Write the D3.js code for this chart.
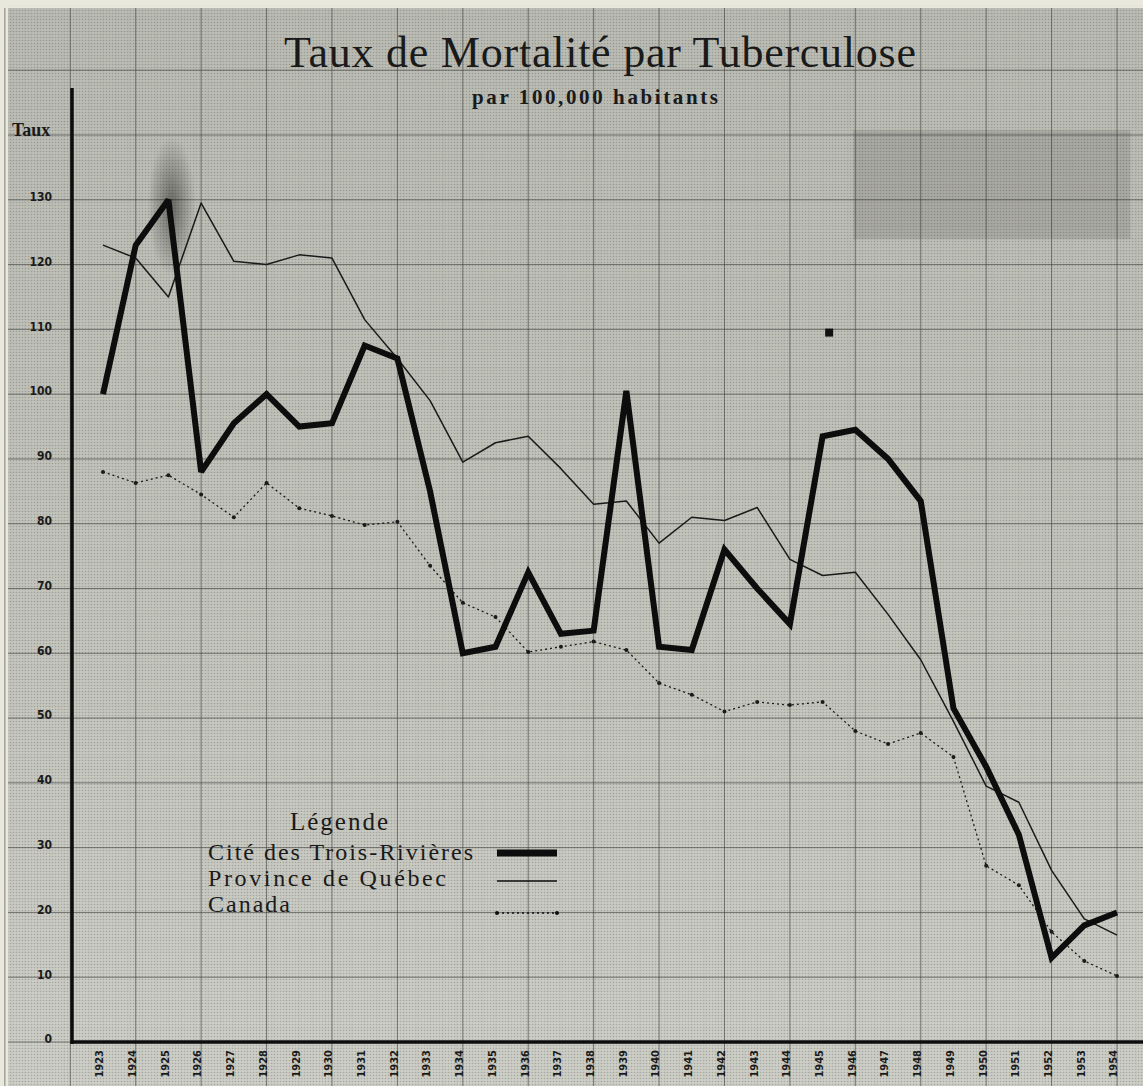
<!DOCTYPE html>
<html>
<head>
<meta charset="utf-8">
<script src="https://cdn.jsdelivr.net/npm/d3@7"></script>
<style>
  html, body { margin: 0; padding: 0; background: #e8e8dc; }
  svg { display: block; }
</style>
</head>
<body>
<svg id="chart" width="1143" height="1086"></svg>
<script>
// ---------- data ----------
const years = [1923,1924,1925,1926,1927,1928,1929,1930,1931,1932,1933,1934,1935,1936,1937,1938,
               1939,1940,1941,1942,1943,1944,1945,1946,1947,1948,1949,1950,1951,1952,1953,1954];
const troisRivieres = [100,123,130,88,95.5,100,95,95.5,107.5,105.5,85,60,61,72.5,63,63.5,
                       100.5,61,60.5,76,70,64.5,93.5,94.5,90,83.5,51.5,42.5,32,13,18,20];
const provinceQuebec = [123,121,115,129.5,120.5,120,121.5,121,111.5,105.5,99,89.5,92.5,93.5,88.5,83,
                        83.5,77,81,80.5,82.5,74.5,72,72.5,66,59,49.5,39.5,37,26.5,19,16.5];
const canada = [88,86.3,87.5,84.5,81,86.3,82.4,81.2,79.8,80.3,73.5,67.8,65.6,60.2,61,61.8,
                60.5,55.4,53.6,51,52.5,52,52.5,48,46,47.7,44,27.2,24.2,17,12.5,10.2];
const yTicks = [0,10,20,30,40,50,60,70,80,90,100,110,120,130];
const seriesNames = ["Cité des Trois-Rivières", "Province de Québec", "Canada"];
const titleText = "Taux de Mortalité par Tuberculose";
const subtitleText = "par 100,000 habitants";
const yAxisTitle = "Taux";
const legendTitle = "Légende";

// ---------- setup ----------
const W = 1143, H = 1086;
const svg = d3.select("#chart");
const x = d3.scaleLinear().domain([1923, 1954]).range([103, 1117]);
const y = d3.scaleLinear().domain([0, 140]).range([1042, 135]);
const axisX = 72, axisY = y(0);

const defs = svg.append("defs");
const bg = defs.append("linearGradient").attr("id","bg").attr("x1",0).attr("y1",0).attr("x2",0).attr("y2",1);
bg.append("stop").attr("offset","0%").attr("stop-color","#babbb3");
bg.append("stop").attr("offset","55%").attr("stop-color","#c3c4bc");
bg.append("stop").attr("offset","100%").attr("stop-color","#cdcec6");
const pat = defs.append("pattern").attr("id","halftone").attr("width",3).attr("height",3)
  .attr("patternUnits","userSpaceOnUse");
pat.append("circle").attr("cx",1.5).attr("cy",1.5).attr("r",0.8).attr("fill","#000").attr("opacity",0.18);
const smudge = defs.append("radialGradient").attr("id","smudge");
smudge.append("stop").attr("offset","0%").attr("stop-color","#000").attr("stop-opacity",0.45);
smudge.append("stop").attr("offset","100%").attr("stop-color","#000").attr("stop-opacity",0);

// paper
svg.append("rect").attr("x",8).attr("y",8).attr("width",W-8).attr("height",H-8).attr("fill","url(#bg)");
svg.append("rect").attr("x",8).attr("y",8).attr("width",W-8).attr("height",H-8).attr("fill","url(#halftone)");

// minor grid (graph paper)
const minorX = d3.range(1919.8, 1955.5, 0.4);
const minorY = d3.range(0, 161, 2);
svg.append("g").selectAll("line").data(minorX).join("line")
  .attr("x1", d => x(d)).attr("x2", d => x(d)).attr("y1", 8).attr("y2", H)
  .attr("stroke", "#555").attr("stroke-width", 0.6).attr("opacity", 0.06);
svg.append("g").selectAll("line").data(minorY).join("line")
  .attr("x1", 8).attr("x2", W).attr("y1", d => y(d)).attr("y2", d => y(d))
  .attr("stroke", "#555").attr("stroke-width", 0.6).attr("opacity", 0.06);

// major grid
const majorX = [1920,1922,1924,1926,1928,1930,1932,1934,1936,1938,1940,1942,1944,1946,1948,1950,1952,1954];
const majorY = [0,10,20,30,40,50,60,70,80,90,100,110,120,130,140,150];
svg.append("g").selectAll("line").data(majorX).join("line")
  .attr("x1", d => x(d)).attr("x2", d => x(d)).attr("y1", 8).attr("y2", H)
  .attr("stroke", "#3c3c3c").attr("stroke-width", 1).attr("opacity", 0.6);
svg.append("g").selectAll("line").data(majorY).join("line")
  .attr("x1", 8).attr("x2", W).attr("y1", d => y(d)).attr("y2", d => y(d))
  .attr("stroke", "#3c3c3c").attr("stroke-width", 1).attr("opacity", 0.6);

// scan artefacts
svg.append("rect")
  .attr("x", x(1945.95)).attr("y", y(140.7))
  .attr("width", x(1954.4) - x(1945.95)).attr("height", y(124) - y(140.7))
  .attr("fill", "#000").attr("opacity", 0.1)
  .attr("stroke", "#222").attr("stroke-opacity", 0.5).attr("stroke-width", 2);
svg.append("ellipse").attr("cx", x(1925.1)).attr("cy", y(129)).attr("rx", 24).attr("ry", 70)
  .attr("fill", "url(#smudge)");
svg.append("rect").attr("x", x(1945.2) - 4).attr("y", y(109.5) - 4).attr("width", 8).attr("height", 8)
  .attr("fill", "#111");

// ---------- titles ----------
svg.append("text").attr("x", 600).attr("y", 67).attr("text-anchor", "middle")
  .attr("font-family", "Liberation Serif, DejaVu Serif, serif").attr("font-size", 44)
  .attr("fill", "#1a1a1a").attr("textLength", 632).attr("lengthAdjust", "spacing")
  .text(titleText);
svg.append("text").attr("x", 595).attr("y", 104).attr("text-anchor", "middle")
  .attr("font-family", "Liberation Serif, DejaVu Serif, serif").attr("font-size", 21)
  .attr("font-weight", "bold").attr("fill", "#1a1a1a")
  .attr("textLength", 246).attr("lengthAdjust", "spacing")
  .text(subtitleText);

// ---------- axes ----------
const yAxis = d3.axisLeft(y).tickValues(yTicks).tickSize(0).tickPadding(0);
const gy = svg.append("g").attr("transform", `translate(52,-3)`).call(yAxis);
gy.select(".domain").remove();
gy.selectAll("text").attr("font-family", "DejaVu Sans Condensed, DejaVu Sans, sans-serif")
  .attr("font-size", 12).attr("font-weight", "bold").attr("fill", "#1a1a1a");
svg.append("text").attr("x", 12).attr("y", 136)
  .attr("font-family", "Liberation Serif, DejaVu Serif, serif").attr("font-size", 18)
  .attr("font-weight", "bold").attr("fill", "#1a1a1a").text(yAxisTitle);

const xAxis = d3.axisBottom(x).tickValues(years).tickFormat(d3.format("d")).tickSize(0);
const gx = svg.append("g").attr("transform", `translate(0,${axisY})`).call(xAxis);
gx.select(".domain").remove();
gx.selectAll("text")
  .attr("transform", "rotate(-90)")
  .attr("x", -8).attr("y", -4).attr("dy", "0.35em")
  .attr("text-anchor", "end")
  .attr("font-family", "DejaVu Sans Condensed, DejaVu Sans, sans-serif")
  .attr("font-size", 11).attr("font-weight", "bold").attr("fill", "#1a1a1a");

// axis lines
svg.append("line").attr("x1", axisX).attr("x2", axisX).attr("y1", 88).attr("y2", axisY + 2)
  .attr("stroke", "#0d0d0d").attr("stroke-width", 3.5);
svg.append("line").attr("x1", axisX - 1.5).attr("x2", W).attr("y1", axisY).attr("y2", axisY)
  .attr("stroke", "#0d0d0d").attr("stroke-width", 3.5);

// ---------- series ----------
const line = d3.line().x((d, i) => x(years[i])).y(d => y(d));

svg.append("path").datum(canada).attr("d", line)
  .attr("fill", "none").attr("stroke", "#1a1a1a").attr("stroke-width", 1.3)
  .attr("stroke-dasharray", "2,3");
svg.append("g").selectAll("circle").data(canada).join("circle")
  .attr("cx", (d, i) => x(years[i])).attr("cy", d => y(d)).attr("r", 2)
  .attr("fill", "#1a1a1a");

svg.append("path").datum(provinceQuebec).attr("d", line)
  .attr("fill", "none").attr("stroke", "#1a1a1a").attr("stroke-width", 1.5)
  .attr("stroke-linejoin", "round");

svg.append("path").datum(troisRivieres).attr("d", line)
  .attr("fill", "none").attr("stroke", "#0d0d0d").attr("stroke-width", 6)
  .attr("stroke-linejoin", "miter").attr("stroke-miterlimit", 2.5);

// ---------- legend ----------
const lg = svg.append("g");
lg.append("text").attr("x", 290).attr("y", 830)
  .attr("font-family", "Liberation Serif, DejaVu Serif, serif").attr("font-size", 25)
  .attr("fill", "#1a1a1a").attr("textLength", 98).attr("lengthAdjust", "spacing")
  .text(legendTitle);
const legendRows = [
  { name: seriesNames[0], y: 860, len: 265, sampleY: 853, width: 7, dash: null, dots: false },
  { name: seriesNames[1], y: 886, len: 238, sampleY: 881, width: 1.5, dash: null, dots: false },
  { name: seriesNames[2], y: 912, len: 82, sampleY: 913, width: 1.3, dash: "2,3", dots: true }
];
legendRows.forEach(r => {
  lg.append("text").attr("x", 208).attr("y", r.y)
    .attr("font-family", "Liberation Serif, DejaVu Serif, serif").attr("font-size", 24)
    .attr("fill", "#1a1a1a").attr("textLength", r.len).attr("lengthAdjust", "spacing")
    .text(r.name);
  const l = lg.append("line").attr("x1", 497).attr("x2", 557).attr("y1", r.sampleY).attr("y2", r.sampleY)
    .attr("stroke", "#0d0d0d").attr("stroke-width", r.width);
  if (r.dash) l.attr("stroke-dasharray", r.dash);
  if (r.dots) {
    lg.selectAll(null).data([497, 557]).join("circle")
      .attr("cx", d => d).attr("cy", r.sampleY).attr("r", 2).attr("fill", "#0d0d0d");
  }
});
</script>
</body>
</html>
